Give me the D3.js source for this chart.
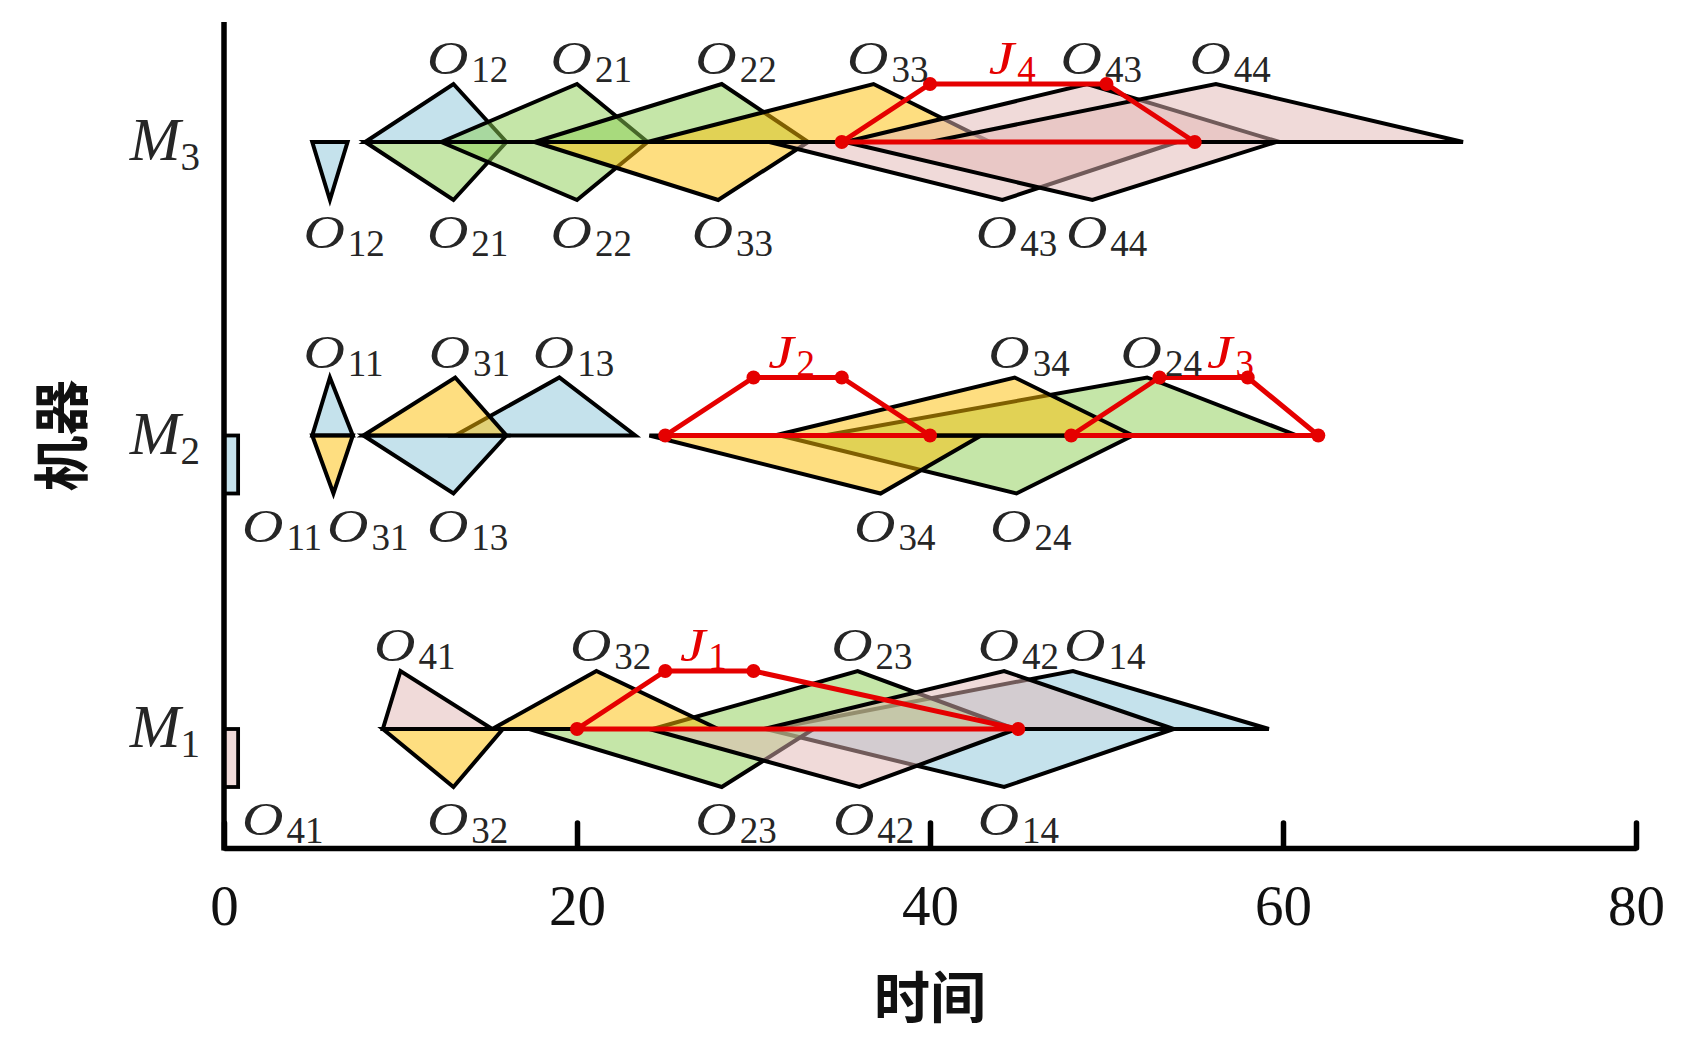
<!DOCTYPE html>
<html>
<head>
<meta charset="utf-8">
<script src="https://cdn.jsdelivr.net/npm/d3@7"></script>
<style>
  body { margin: 0; background: #fff; }
</style>
</head>
<body>
<svg id="chart" width="1700" height="1060"></svg>
<script>
// machines, top to bottom
const machines = ["M3", "M2", "M1"];

// operations O_jk, in job order (this is also the drawing order)
const opNames   = ["11", "12", "13", "14", "21", "22", "23", "24", "31", "32", "33", "34", "41", "42", "43", "44"];
const opMachine = ["M2", "M3", "M2", "M1", "M3", "M3", "M1", "M2", "M2", "M1", "M3", "M2", "M1", "M1", "M3", "M3"];
// fuzzy start times (triangles below the machine line)
const opStart = [
  [0, 0, 0], [5, 6, 7], [7.9, 13, 16], [30.7, 44.2, 53.8],
  [8, 13, 16], [12.3, 20, 24], [17.3, 28.2, 33.4], [31.5, 44.9, 51.5],
  [5, 6.2, 7.3], [9, 13, 15.8], [17.6, 28, 33.1], [24.1, 37.2, 42.9],
  [0, 0, 0], [24.1, 36, 44.9], [30.9, 44.1, 54], [35.2, 49.2, 59.6]
];
// fuzzy completion times (triangles above the machine line)
const opEnd = [
  [5, 6, 7.3], [8, 13, 16], [13.1, 19, 23.3], [31, 48.1, 59.2],
  [12.3, 20, 24], [17.6, 28.2, 33.1], [24.3, 35.9, 44.8], [34, 52.3, 60.8],
  [7.9, 13.1, 16], [15.2, 21.1, 28], [24, 36.8, 43.4], [31.2, 44.8, 51.5],
  [9, 10, 15.2], [30.6, 44.2, 53.8], [35.2, 48.9, 59.8], [40, 56.2, 70.2]
];

// fuzzy due dates (trapezoids)
const dueJobs    = ["1", "2", "3", "4"];
const dueMachine = ["M1", "M2", "M2", "M3"];
const dueDates   = [[20, 25, 30, 45], [25, 30, 35, 40], [48, 53, 58, 62], [35, 40, 50, 55]];

const xTicks = [0, 20, 40, 60, 80];

(function() {
    const svg = d3.select("#chart");
    const serif = "'Liberation Serif', 'Times New Roman', serif";

    const x = d3.scaleLinear().domain([0, 80]).range([224, 1636]);
    const y = d3.scalePoint().domain(machines).range([142, 729]);
    const h = 58;       // height of a fuzzy triangle
    const crispW = 0.8; // width (time) of the box drawn for a crisp zero start

    const jobColor = { "1": "#8bc5d9", "2": "#8bcd51", "3": "#fdbd01", "4": "#e1b5b3" };
    const red = "#e50000";

    const closed = (pts) => d3.line()(pts) + "Z";

    // fuzzy triangles
    const shapes = svg.append("g");
    opNames.forEach((name, i) => {
        const yb = y(opMachine[i]);
        const col = jobColor[name[0]];
        const s = opStart[i], e = opEnd[i];

        if (s[2] - s[0] < 0.01) {
            shapes.append("rect")
                .attr("x", x(s[0]))
                .attr("y", yb)
                .attr("width", x(s[0] + crispW) - x(s[0]))
                .attr("height", h)
                .attr("fill", col).attr("fill-opacity", 0.5)
                .attr("stroke", "#000").attr("stroke-width", 3.8);
        } else {
            shapes.append("path")
                .attr("d", closed([[x(s[0]), yb], [x(s[1]), yb + h], [x(s[2]), yb]]))
                .attr("fill", col).attr("fill-opacity", 0.5)
                .attr("stroke", "#000").attr("stroke-width", 4)
                .attr("stroke-linejoin", "miter");
        }

        shapes.append("path")
            .attr("d", closed([[x(e[0]), yb], [x(e[1]), yb - h], [x(e[2]), yb]]))
            .attr("fill", col).attr("fill-opacity", 0.5)
            .attr("stroke", "#000").attr("stroke-width", 4)
            .attr("stroke-linejoin", "miter");
    });

    // due date trapezoids
    const dues = svg.append("g");
    dueDates.forEach((d, i) => {
        const yb = y(dueMachine[i]);
        const pts = [[x(d[0]), yb], [x(d[1]), yb - h], [x(d[2]), yb - h], [x(d[3]), yb]];
        dues.append("path")
            .attr("d", closed(pts))
            .attr("fill", "none")
            .attr("stroke", red).attr("stroke-width", 5)
            .attr("stroke-linejoin", "round");
        dues.selectAll(null)
            .data(pts)
            .join("circle")
            .attr("cx", p => p[0])
            .attr("cy", p => p[1])
            .attr("r", 7)
            .attr("fill", red);
    });

    // labels: wide italic letter + upright subscript
    const labels = svg.append("g").attr("font-family", serif);
    const letterScale = 1.22;
    function makeLabel(letter, sub, fill) {
        const g = labels.append("g").attr("fill", fill);
        const l = g.append("text")
            .attr("font-style", "italic").attr("font-size", 47)
            .attr("transform", "scale(" + letterScale + ",1)")
            .text(letter);
        const adv = l.node().getComputedTextLength() * letterScale;
        g.append("text")
            .attr("x", adv + 3).attr("y", 8)
            .attr("font-size", 37)
            .text(sub);
        return g;
    }

    const groups = new Map();
    function addItem(key, node, left, base) {
        if (!groups.has(key)) groups.set(key, []);
        const bb = node.node().getBBox();
        groups.get(key).push({ node, left, base, w: bb.x + bb.width });
    }

    const oHalf = 20.5;
    opNames.forEach((name, i) => {
        const m = opMachine[i];
        const yb = y(m);
        const s = opStart[i], e = opEnd[i];
        const sPeak = (s[2] - s[0] < 0.01) ? x(s[0] + crispW / 2) : x(s[1]);
        addItem(m + "up", makeLabel("O", name, "#262626"), x(e[1]) - 6 - oHalf, yb - h - 10);
        addItem(m + "down", makeLabel("O", name, "#262626"), sPeak - 6 - oHalf, yb + h + 48);
    });

    dueJobs.forEach((j, i) => {
        const m = dueMachine[i];
        const d = dueDates[i];
        const node = makeLabel("J", j, red);
        const bb = node.node().getBBox();
        addItem(m + "up", node, x((d[1] + d[2]) / 2) - (bb.x + bb.width) / 2 - 6, y(m) - h - 10);
    });

    // push overlapping labels to the right
    groups.forEach(list => {
        list.sort((a, b) => a.left - b.left);
        let minLeft = x(0) + 18;
        list.forEach(it => {
            it.left = Math.max(it.left, minLeft);
            it.node.attr("transform", "translate(" + it.left + "," + it.base + ")");
            minLeft = it.left + it.w + 5;
        });
    });

    // machine names
    const mLab = svg.append("g").attr("font-family", serif).attr("fill", "#262626");
    machines.forEach(m => {
        const t = mLab.append("text")
            .attr("x", 200)
            .attr("y", y(m) + 18)
            .attr("text-anchor", "end");
        t.append("tspan").attr("font-style", "italic").attr("font-size", 61).text(m[0]);
        t.append("tspan").attr("font-size", 39).attr("dy", 10).text(m.slice(1));
    });

    // axes
    const xAxis = svg.append("g")
        .attr("transform", "translate(0,848)")
        .call(d3.axisBottom(x).tickValues(xTicks).tickSize(-25).tickSizeOuter(0).tickFormat(d3.format("d")));
    xAxis.select(".domain").attr("stroke", "#000").attr("stroke-width", 5.5);
    xAxis.selectAll(".tick line").attr("stroke", "#000").attr("stroke-width", 5.5).attr("stroke-linecap", "round");
    xAxis.selectAll(".tick text")
        .attr("y", 77).attr("dy", 0)
        .attr("font-family", serif).attr("font-size", 57).attr("fill", "#111");

    svg.append("line")
        .attr("x1", x(0)).attr("x2", x(0))
        .attr("y1", 22).attr("y2", 850.5)
        .attr("stroke", "#000").attr("stroke-width", 5.5);

    // axis titles
    svg.append("text")
        .attr("x", x(40)).attr("y", 1018)
        .attr("text-anchor", "middle")
        .attr("font-family", "'Noto Sans CJK SC', sans-serif")
        .attr("font-weight", 700).attr("font-size", 56)
        .attr("fill", "#111")
        .text("时间");

    svg.append("text")
        .attr("transform", "translate(57," + y("M2") + ") rotate(-90)")
        .attr("text-anchor", "middle")
        .attr("dominant-baseline", "central")
        .attr("font-family", "'Noto Sans CJK SC', sans-serif")
        .attr("font-weight", 700).attr("font-size", 56)
        .attr("fill", "#111")
        .text("机器");
})();
</script>
</body>
</html>
